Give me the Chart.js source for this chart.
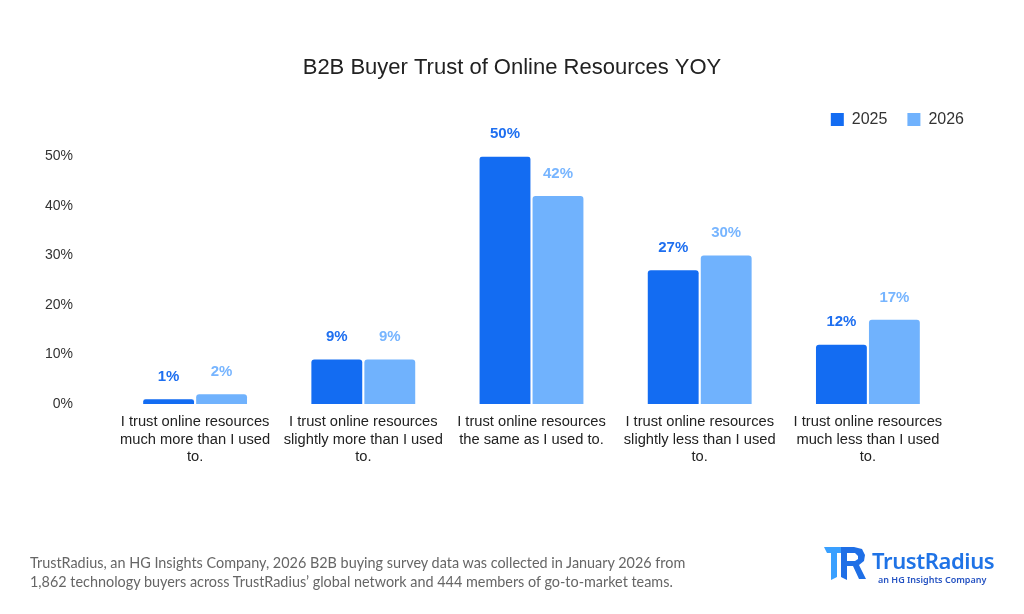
<!DOCTYPE html>
<html>
<head>
<meta charset="utf-8">
<script src="https://cdn.jsdelivr.net/npm/chart.js@4/dist/chart.umd.min.js"></script>
<style>
  html, body { margin: 0; padding: 0; background: #fff; }
  #wrap { position: relative; width: 1024px; height: 614px; overflow: hidden; }
  #note {
    position: absolute; left: 30px; top: 553px;
    font-family: Lato, "Noto Sans", sans-serif; font-size: 14.4px; line-height: 19px; color: #666;
  }
  #logo { position: absolute; left: 824px; top: 544px; width: 190px; height: 46px; }
  #logo .name {
    position: absolute; left: 48px; top: 1px;
    font-family: "Noto Sans", sans-serif; font-weight: 600; font-size: 22px; color: #1f73e6; letter-spacing: -0.4px;
  }
  #logo .sub {
    position: absolute; left: 54px; top: 29px;
    font-family: "Noto Sans", sans-serif; font-weight: 600; font-size: 9px; color: #2452c2;
  }
</style>
</head>
<body>
<div id="wrap">
  <canvas id="chart" width="1024" height="614"></canvas>
  <div id="note">TrustRadius, an HG Insights Company, 2026 B2B buying survey data was collected in January 2026 from<br>1,862 technology buyers across TrustRadius’ global network and 444 members of go-to-market teams.</div>
  <div id="logo">
    <svg width="46" height="34" viewBox="0 0 46 34" style="position:absolute;left:0;top:3px">
      <polygon points="0,0 22,0 26,6 13,6 13,30 7,33 7,6 3,6" fill="#3aa0ff"/>
      <polygon points="17,0 30,0 38,2 41,8 40,14 35,18 42,32 35,32 29,19 23,19 23,33 17,30" fill="#1f6fe6"/>
      <polygon points="23,6 31,6 34,9 34,12 31,14 23,14" fill="#fff"/>
    </svg>
    <span class="name">TrustRadius</span>
    <span class="sub">an HG Insights Company</span>
  </div>
</div>
<script>
const categories = [
  ['I trust online resources', 'much more than I used', 'to.'],
  ['I trust online resources', 'slightly more than I used', 'to.'],
  ['I trust online resources', 'the same as I used to.'],
  ['I trust online resources', 'slightly less than I used', 'to.'],
  ['I trust online resources', 'much less than I used', 'to.']
];
const values2025 = [1, 9, 50, 27, 12];
const values2026 = [2, 9, 42, 30, 17];
const yTicks = [0, 10, 20, 30, 40, 50];

const dark = '#136cf2';
const light = '#70b2fd';
const fontFamily = '"Liberation Sans", Arial, sans-serif';

// labels above each bar
const barLabels = {
  id: 'barLabels',
  afterDatasetsDraw(chart) {
    const ctx = chart.ctx;
    ctx.save();
    ctx.font = 'bold 15px ' + fontFamily;
    ctx.textAlign = 'center';
    ctx.textBaseline = 'bottom';
    chart.data.datasets.forEach((ds, i) => {
      const meta = chart.getDatasetMeta(i);
      ctx.fillStyle = i === 0 ? '#1e6ff0' : '#77b5ff';
      meta.data.forEach((bar, j) => {
        ctx.fillText(ds.data[j] + '%', bar.x, bar.y - 15);
      });
    });
    ctx.restore();
  }
};

new Chart(document.getElementById('chart'), {
  type: 'bar',
  data: {
    labels: categories,
    datasets: [
      { label: '2025', data: values2025, backgroundColor: dark },
      { label: '2026', data: values2026, backgroundColor: light }
    ]
  },
  options: {
    responsive: false,
    animation: false,
    layout: { padding: { left: 40, right: 40, top: 0, bottom: 147 } },
    datasets: {
      bar: {
        categoryPercentage: 0.63,
        barPercentage: 0.96,
        borderRadius: { topLeft: 3, topRight: 3 },
        borderSkipped: 'bottom'
      }
    },
    plugins: {
      title: {
        display: true,
        text: 'B2B Buyer Trust of Online Resources YOY',
        color: '#222',
        font: { family: fontFamily, size: 22, weight: 'normal' },
        padding: { top: 55, bottom: 10 }
      },
      legend: {
        position: 'top',
        align: 'end',
        labels: {
          boxWidth: 13,
          boxHeight: 13,
          padding: 20,
          color: '#333',
          font: { family: fontFamily, size: 16 }
        }
      },
      tooltip: { enabled: false }
    },
    scales: {
      x: {
        grid: { display: false },
        border: { display: false },
        ticks: {
          color: '#222',
          maxRotation: 0,
          padding: 1,
          font: { family: fontFamily, size: 14.7, lineHeight: 1.2 }
        }
      },
      // spacer above the plot, below the legend
      xTop: {
        type: 'category',
        position: 'top',
        grid: { display: false },
        border: { display: false },
        ticks: { display: false },
        afterFit(axis) { axis.height = 19; }
      },
      y: {
        min: 0,
        max: 50,
        grid: { display: false, drawTicks: false },
        border: { display: false },
        afterBuildTicks(axis) { axis.ticks = yTicks.map(v => ({ value: v })); },
        afterFit(axis) { axis.width = 71; },
        ticks: {
          color: '#333',
          padding: 38,
          font: { family: fontFamily, size: 14 },
          callback: v => v + '%'
        }
      },
      // spacer to the right of the plot
      yRight: {
        position: 'right',
        min: 0,
        max: 50,
        grid: { display: false },
        border: { display: false },
        ticks: { display: false },
        afterFit(axis) { axis.width = 32; }
      }
    }
  },
  plugins: [barLabels]
});
</script>
</body>
</html>
